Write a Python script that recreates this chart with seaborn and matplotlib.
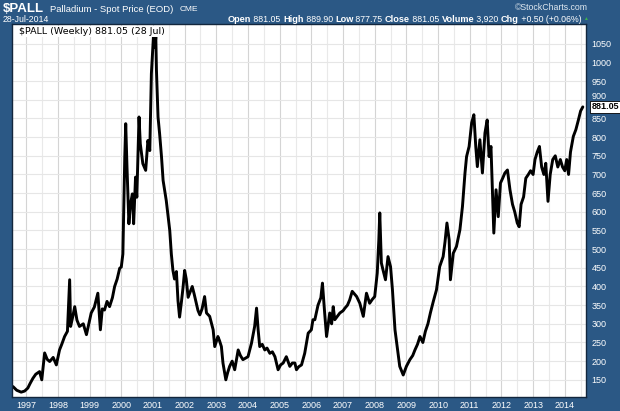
import matplotlib
matplotlib.use("Agg")
import matplotlib.pyplot as plt
import seaborn as sns
import numpy as np

# weekly palladium closes (decimal year, USD)
years = [
    1996.58, 1996.70, 1996.84, 1996.95, 1997.05, 1997.12, 1997.21, 1997.30, 1997.42, 1997.49,
    1997.58, 1997.66, 1997.74, 1997.85, 1997.95, 1998.05, 1998.12, 1998.21, 1998.30, 1998.37,
    1998.40, 1998.47, 1998.53, 1998.60, 1998.68, 1998.80, 1998.90, 1999.05, 1999.15, 1999.26,
    1999.34, 1999.40, 1999.47, 1999.55, 1999.63, 1999.72, 1999.79, 1999.87, 1999.95, 2000.00,
    2000.05, 2000.11, 2000.14, 2000.18, 2000.24, 2000.29, 2000.35, 2000.39, 2000.45, 2000.49,
    2000.56, 2000.60, 2000.68, 2000.77, 2000.84, 2000.90, 2000.95, 2001.02, 2001.06, 2001.09,
    2001.11, 2001.16, 2001.21, 2001.27, 2001.32, 2001.42, 2001.53, 2001.58, 2001.63, 2001.68,
    2001.74, 2001.79, 2001.84, 2001.90, 2001.95, 2002.00, 2002.05, 2002.11, 2002.16, 2002.24,
    2002.30, 2002.37, 2002.42, 2002.48, 2002.55, 2002.63, 2002.69, 2002.79, 2002.85, 2002.90,
    2002.95, 2003.05, 2003.10, 2003.16, 2003.21, 2003.30, 2003.36, 2003.42, 2003.50, 2003.58,
    2003.69, 2003.76, 2003.84, 2004.00, 2004.11, 2004.21, 2004.27, 2004.32, 2004.37, 2004.45,
    2004.53, 2004.60, 2004.69, 2004.77, 2004.85, 2004.95, 2005.03, 2005.11, 2005.21, 2005.32,
    2005.40, 2005.48, 2005.53, 2005.60, 2005.69, 2005.79, 2005.90, 2006.00, 2006.05, 2006.11,
    2006.21, 2006.30, 2006.35, 2006.42, 2006.48, 2006.58, 2006.64, 2006.69, 2006.74, 2006.82,
    2006.90, 2007.00, 2007.06, 2007.14, 2007.21, 2007.29, 2007.36, 2007.43, 2007.53, 2007.64,
    2007.74, 2007.84, 2007.92, 2008.00, 2008.08, 2008.13, 2008.16, 2008.21, 2008.26, 2008.34,
    2008.42, 2008.50, 2008.56, 2008.64, 2008.71, 2008.79, 2008.90, 2009.00, 2009.11, 2009.20,
    2009.27, 2009.35, 2009.43, 2009.52, 2009.60, 2009.68, 2009.76, 2009.85, 2009.95, 2010.05,
    2010.16, 2010.22, 2010.28, 2010.35, 2010.39, 2010.48, 2010.58, 2010.69, 2010.77, 2010.85,
    2010.90, 2010.98, 2011.06, 2011.13, 2011.19, 2011.24, 2011.32, 2011.40, 2011.48, 2011.55,
    2011.61, 2011.67, 2011.72, 2011.76, 2011.83, 2011.90, 2011.97, 2012.04, 2012.11, 2012.19,
    2012.27, 2012.35, 2012.42, 2012.50, 2012.56, 2012.62, 2012.70, 2012.77, 2012.85, 2012.92,
    2013.00, 2013.06, 2013.13, 2013.20, 2013.27, 2013.34, 2013.40, 2013.47, 2013.54, 2013.62,
    2013.70, 2013.78, 2013.86, 2013.93, 2014.00, 2014.06, 2014.12, 2014.18, 2014.27, 2014.35,
    2014.43, 2014.50, 2014.57,
]
prices = [
    132, 122, 117, 120, 128, 140, 154, 165, 172, 150,
    222, 205, 199, 210, 190, 230, 245, 266, 280, 418,
    293, 320, 346, 310, 293, 300, 271, 329, 345, 382,
    284, 340, 337, 360, 346, 370, 400, 420, 449, 452,
    487, 747, 836, 720, 568, 621, 648, 568, 693, 639,
    854, 782, 729, 711, 791, 764, 970, 1077, 1040, 1068,
    979, 854, 809, 747, 684, 630, 550, 487, 443, 420,
    440, 362, 318, 360, 398, 443, 420, 371, 382, 400,
    380, 355, 336, 324, 340, 373, 329, 320, 300, 284,
    239, 266, 255, 239, 195, 150, 170, 186, 200, 177,
    230, 215, 204, 212, 248, 293, 342, 284, 239, 245,
    230, 235, 221, 225, 212, 177, 190, 195, 212, 186,
    195, 195, 177, 185, 190, 221, 275, 284, 311, 311,
    350, 370, 409, 329, 266, 329, 300, 346, 311, 320,
    329, 335, 342, 350, 364, 387, 380, 373, 355, 320,
    382, 355, 365, 373, 436, 525, 597, 463, 445, 418,
    480, 453, 391, 284, 239, 186, 163, 186, 204, 215,
    230, 245, 266, 250, 280, 300, 330, 360, 391, 453,
    480, 520, 570, 525, 418, 489, 507, 552, 614, 704,
    748, 775, 838, 860, 775, 721, 793, 704, 811, 846,
    748, 775, 641, 543, 659, 587, 677, 690, 704, 712,
    659, 620, 600, 570, 560, 620, 640, 690, 700, 710,
    700, 740, 760, 775, 720, 700, 730, 628, 700, 740,
    750, 720, 740, 720, 710, 740, 700, 760, 802, 820,
    846, 870, 881,
]
year_ticks = list(range(1997, 2015))
price_ticks = list(range(150, 1051, 50))

BG = "#2b5885"
W, H = 620, 411

sns.set_style("white")
plt.rcParams["font.family"] = ["Liberation Sans", "DejaVu Sans"]

fig = plt.figure(figsize=(6.2, 4.11), dpi=100, facecolor=BG)
ax = fig.add_axes([12 / W, 1 - 397 / H, (586 - 12) / W, (397 - 24) / H])
ax.set_facecolor("white")

# grid: half-year light, years darker, every 50 horizontally
for y in np.arange(1996.5, 2015, 0.5):
    ax.axvline(y, color="#d4d4d4" if y == int(y) else "#e9e9e9", lw=0.8, zorder=0)
for p in price_ticks:
    ax.axhline(p, color="#e6e6e6", lw=0.8, zorder=0)

sns.lineplot(x=years, y=prices, ax=ax, color="black", lw=2.1, estimator=None, sort=False)

ax.set_xlim(1996.55, 2014.67)
ax.set_ylim(104, 1103)
ax.set_xticks(year_ticks)
ax.set_xticklabels([str(y) for y in year_ticks])
ax.set_yticks(price_ticks)
ax.set_yticklabels([str(p) if p != 900 else "" for p in price_ticks])
ax.yaxis.tick_right()
ax.tick_params(axis="both", length=0, colors="white", labelsize=6.5)
ax.tick_params(axis="x", pad=3)
ax.tick_params(axis="y", pad=4)
ax.set_xlabel("")
ax.set_ylabel("")
for s in ax.spines.values():
    s.set_color("#12263d")
    s.set_linewidth(1.0)

# "900" sits partly hidden behind the last-price tag, as in the reference
ax.annotate("900", xy=(1.0, 900), xycoords=("axes fraction", "data"),
            xytext=(4, 2.5), textcoords="offset points", ha="left", va="center",
            fontsize=6.5, color="white", annotation_clip=False)
ax.annotate("881.05", xy=(1.0, 881.05), xycoords=("axes fraction", "data"),
            xytext=(4, 0), textcoords="offset points", ha="left", va="center",
            fontsize=6.5, fontweight="bold", color="black", zorder=5,
            bbox=dict(boxstyle="square,pad=0.15", fc="white", ec="black", lw=0.6),
            annotation_clip=False)

# legend-like label inside the plot
ax.text(0.012, 0.992, "$PALL (Weekly) 881.05 (28 Jul)", transform=ax.transAxes,
        ha="left", va="top", fontsize=6.8, color="black", family="DejaVu Sans",
        bbox=dict(boxstyle="square,pad=0.1", fc="white", ec="none"))

# header
def px(x, y):
    return x / W, 1 - y / H

fig.text(*px(3, 9), "$PALL", color="white", fontsize=9.5, fontweight="bold", va="center")
fig.text(*px(50, 9.5), "Palladium - Spot Price (EOD)", color="white", fontsize=6.8, va="center")
fig.text(*px(180, 9.5), "CME", color="white", fontsize=6, va="center")
fig.text(*px(3, 19.5), "28-Jul-2014", color="white", fontsize=6.3, va="center")
fig.text(*px(588, 7), "\u00a9StockCharts.com", color="#dfe8f0", fontsize=6.3, va="center", ha="right")

parts = [("Open", True), (" 881.05 ", False), ("High", True), (" 889.90 ", False),
         ("Low", True), (" 877.75 ", False), ("Close", True), (" 881.05 ", False),
         ("Volume", True), (" 3,920 ", False), ("Chg", True), (" +0.50 (+0.06%)", False)]
renderer = fig.canvas.get_renderer()
x0 = 228
for txt, bold in parts:
    t = fig.text(*px(x0, 19), txt, color="white", fontsize=6.6 if bold else 6.3,
                 fontweight="bold" if bold else "normal", va="center")
    bb = t.get_window_extent(renderer=renderer)
    x0 += bb.width
fig.text(*px(x0 + 2, 19), "\u25b2", color="#3bb54a", fontsize=3.5, va="center")

fig.savefig("out.png", dpi=100, facecolor=BG)
